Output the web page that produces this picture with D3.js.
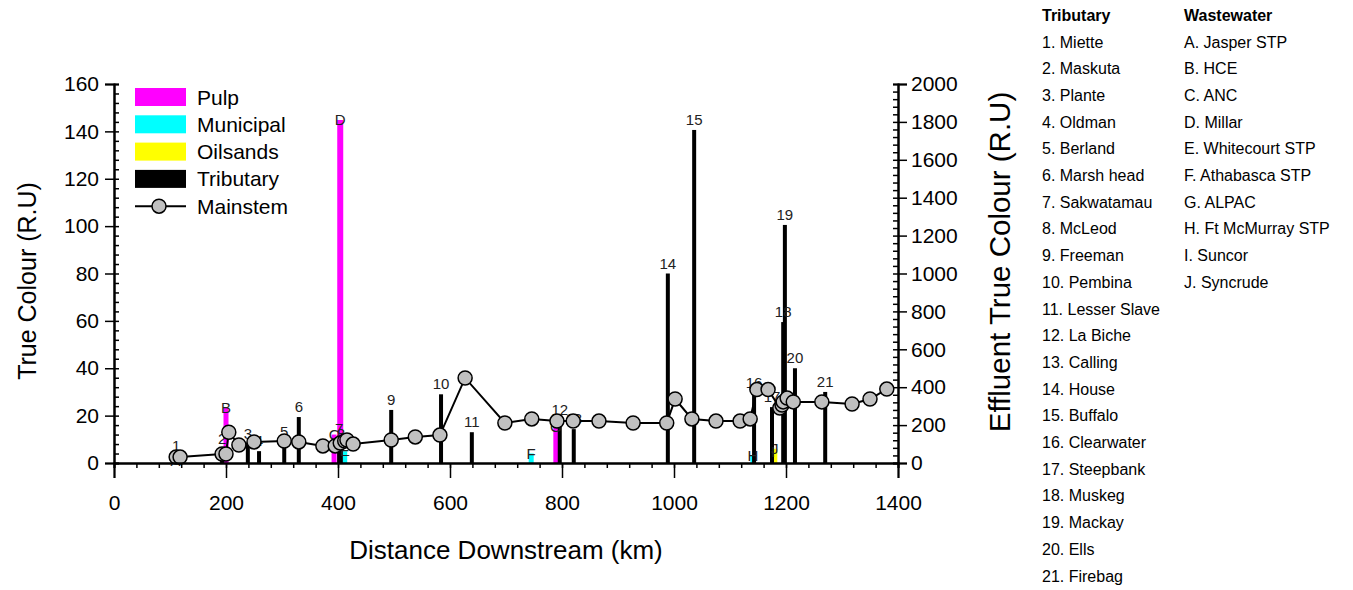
<!DOCTYPE html>
<html><head><meta charset="utf-8">
<script src="https://cdn.jsdelivr.net/npm/d3@7"></script>
<style>
body{margin:0;background:#fff;}
svg{display:block;font-family:"Liberation Sans",Arial,sans-serif;}
</style></head>
<body><svg id="chart" width="1353" height="590"></svg>
<script>
// ---- data ----
const mainstemKm  = [111,118,193,200,205,223,250,304,330,373,395,404,412,416,427,495,538,582,627,698,746,791,820,866,927,987,1002,1032,1075,1118,1136,1148,1168,1189,1193,1195,1202,1213,1264,1318,1350,1380];
const mainstemVal = [2.5,2.5,3.8,3.8,13,7.6,8.9,9.3,8.9,7.2,7.2,8.4,9.3,9.7,8.0,9.7,11,11.8,35.9,16.9,18.6,17.7,17.7,17.7,16.9,16.9,27,18.6,17.7,17.7,18.6,31,31,23.2,24.5,25.8,27.4,25.8,25.8,24.9,27,31.2];

const tribLabels = ["1","2","3","4","5","6","7","8","9","10","11","12","13","14","15","16","17","18","19","20","21"];
const tribKm     = [111,193,239,259,304,330,402,405,495,584,639,796,821,989,1036,1143,1175,1195,1198,1216,1270];
const tribVal    = [3,6,8,5,9,19.4,10,8,22.4,29,13,18,14.3,80,140.6,29.5,23.6,59.5,100.5,40,30];

const effLabels = ["A","B","C","D","E","F","G","H","I","J"];
const effType   = ["Municipal","Pulp","Pulp","Pulp","Municipal","Municipal","Pulp","Municipal","Oilsands","Oilsands"];
const effKm     = [110,200,393,404,412,745,789,1141,1177,1180];
const effVal    = [10,290,150,1810,62,50,190,37,58,75];

const tribNames = ["1. Miette","2. Maskuta","3. Plante","4. Oldman","5. Berland","6. Marsh head","7. Sakwatamau","8. McLeod","9. Freeman","10. Pembina","11. Lesser Slave","12. La Biche","13. Calling","14. House","15. Buffalo","16. Clearwater","17. Steepbank","18. Muskeg","19. Mackay","20. Ells","21. Firebag"];
const wasteNames = ["A. Jasper STP","B. HCE","C. ANC","D. Millar","E. Whitecourt STP","F. Athabasca STP","G. ALPAC","H. Ft McMurray STP","I. Suncor","J. Syncrude"];

const xTicks = [0,200,400,600,800,1000,1200,1400];
const yLTicks = [0,20,40,60,80,100,120,140,160];
const yRTicks = [0,200,400,600,800,1000,1200,1400,1600,1800,2000];
const legendItems = ["Pulp","Municipal","Oilsands","Tributary","Mainstem"];
const typeColor = {Pulp:"#ff00ff",Municipal:"#00ffff",Oilsands:"#ffff00",Tributary:"#000000"};

// ---- chart ----
const svg = d3.select("#chart");
const x  = d3.scaleLinear().domain([0,1400]).range([114,898]);
const yL = d3.scaleLinear().domain([0,160]).range([463,84]);
const yR = d3.scaleLinear().domain([0,2000]).range([463,84]);

const eff = effLabels.map((l,i)=>({l,t:effType[i],km:effKm[i],v:effVal[i]}));
const trib = tribLabels.map((l,i)=>({l,km:tribKm[i],v:tribVal[i]}));
const ms = mainstemKm.map((k,i)=>({km:k,v:mainstemVal[i]}));

// effluent bars
svg.append("g").selectAll("rect").data(eff).join("rect")
  .attr("x",d=>x(d.km)-(d.l==="D"?3:2.5)).attr("width",d=>d.l==="D"?6:5)
  .attr("y",d=>yR(d.v)).attr("height",d=>yR(0)-yR(d.v))
  .attr("fill",d=>typeColor[d.t]);
// tributary bars
svg.append("g").selectAll("rect").data(trib).join("rect")
  .attr("x",d=>x(d.km)-2).attr("width",4)
  .attr("y",d=>yL(d.v)).attr("height",d=>yL(0)-yL(d.v))
  .attr("fill","#000");

// labels
svg.append("g").attr("font-size",15).attr("fill","#222").attr("text-anchor","middle")
  .selectAll("text").data(eff).join("text")
  .attr("x",d=>x(d.km)).attr("y",d=>yR(d.v)+5).text(d=>d.l);
svg.append("g").attr("font-size",15).attr("fill","#222").attr("text-anchor","middle")
  .selectAll("text").data(trib).join("text")
  .attr("x",d=>x(d.km)).attr("y",d=>yL(d.v)-5).text(d=>d.l);

// mainstem
svg.append("path").datum(ms)
  .attr("d",d3.line().x(d=>x(d.km)).y(d=>yL(d.v)))
  .attr("fill","none").attr("stroke","#000").attr("stroke-width",2);
svg.append("g").selectAll("circle").data(ms).join("circle")
  .attr("cx",d=>x(d.km)).attr("cy",d=>yL(d.v)).attr("r",7)
  .attr("fill","#c0c0c0").attr("stroke","#000").attr("stroke-width",1.5);

// axes
const axisStyle = g=>{g.selectAll("path").attr("stroke","#000").attr("stroke-width",2);
  g.selectAll("line").attr("stroke","#000").attr("stroke-width",1.5);
  g.selectAll("text").attr("font-family","Liberation Sans, Arial, sans-serif").attr("fill","#000");};

// x minor
svg.append("g").attr("transform","translate(0,463)")
  .call(d3.axisBottom(x).tickValues(d3.range(0,1401,40)).tickSize(5).tickFormat(""))
  .call(axisStyle);
svg.append("g").attr("transform","translate(0,463)")
  .call(d3.axisBottom(x).tickValues(xTicks).tickSize(15).tickPadding(17).tickFormat(d3.format("d")))
  .call(axisStyle).attr("font-size",21);

// left axis
svg.append("g").attr("transform","translate(114,0)")
  .call(d3.axisRight(yL).tickValues(d3.range(0,161,4)).tickSize(5).tickFormat(""))
  .call(axisStyle);
svg.append("g").attr("transform","translate(114,0)")
  .call(d3.axisLeft(yL).tickValues(yLTicks).tickSize(9).tickPadding(6).tickFormat(d3.format("d")))
  .call(axisStyle).attr("font-size",21);

// right axis
svg.append("g").attr("transform","translate(898,0)")
  .call(d3.axisLeft(yR).tickValues(d3.range(0,2001,40)).tickSize(5).tickFormat(""))
  .call(axisStyle);
svg.append("g").attr("transform","translate(898,0)")
  .call(d3.axisRight(yR).tickValues(yRTicks).tickSize(9).tickPadding(4).tickFormat(d3.format("d")))
  .call(axisStyle).attr("font-size",21);

// axis titles
svg.append("text").attr("x",506).attr("y",559).attr("text-anchor","middle")
  .attr("font-size",26).text("Distance Downstream (km)");
svg.append("text").attr("transform","translate(36,281) rotate(-90)").attr("text-anchor","middle")
  .attr("font-size",25).text("True Colour (R.U)");
svg.append("text").attr("transform","translate(1010,262) rotate(-90)").attr("text-anchor","middle")
  .attr("font-size",29.5).text("Effluent True Colour (R.U)");

// legend
const lg = svg.append("g");
legendItems.forEach((name,i)=>{
  const cy = 97 + i*27.3;
  if(name==="Mainstem"){
    lg.append("line").attr("x1",135).attr("x2",186).attr("y1",cy).attr("y2",cy).attr("stroke","#000").attr("stroke-width",2);
    lg.append("circle").attr("cx",159).attr("cy",cy).attr("r",7).attr("fill","#c0c0c0").attr("stroke","#000").attr("stroke-width",1.5);
  } else {
    lg.append("rect").attr("x",135).attr("y",cy-9).attr("width",51).attr("height",18).attr("fill",typeColor[name]);
  }
  lg.append("text").attr("x",197).attr("y",cy+7.5).attr("font-size",21).text(name);
});

// side lists
const side = svg.append("g").attr("font-size",16).attr("fill","#000");
side.append("text").attr("x",1042).attr("y",21).attr("font-weight","bold").text("Tributary");
side.append("text").attr("x",1184).attr("y",21).attr("font-weight","bold").text("Wastewater");
tribNames.forEach((t,i)=>side.append("text").attr("x",1042).attr("y",47.5+i*26.7).text(t));
wasteNames.forEach((t,i)=>side.append("text").attr("x",1184).attr("y",47.5+i*26.7).text(t));
</script></body></html>
